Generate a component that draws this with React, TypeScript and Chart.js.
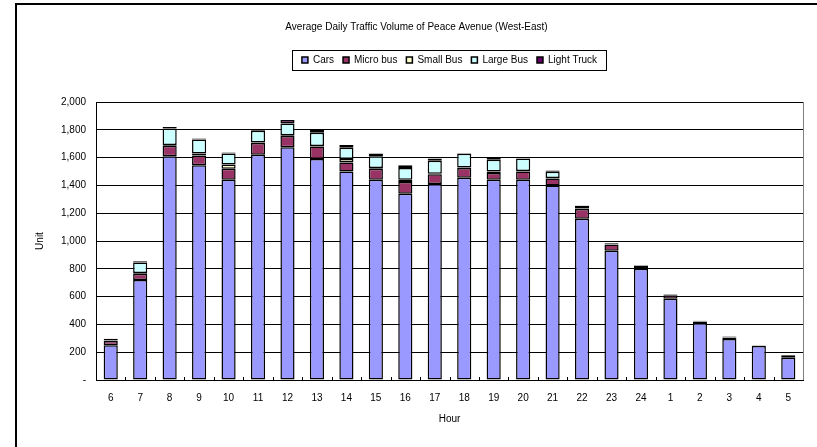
import React, { useEffect, useRef } from 'react';
import { Chart, registerables } from 'chart.js';

Chart.register(...registerables);

const FONT = "'Liberation Sans', Arial, Helvetica, sans-serif";

const chartTitle = 'Average Daily Traffic Volume of Peace Avenue (West-East)';
const xTitle = 'Hour';
const yTitle = 'Unit';

const hours = ['6', '7', '8', '9', '10', '11', '12', '13', '14', '15', '16', '17', '18', '19', '20', '21', '22', '23', '24', '1', '2', '3', '4', '5'];

const cars = [250, 720, 1610, 1545, 1440, 1620, 1675, 1590, 1500, 1440, 1340, 1410, 1455, 1440, 1440, 1400, 1160, 930, 800, 585, 410, 295, 245, 160];
const microBus = [30, 45, 75, 70, 80, 85, 80, 90, 65, 80, 85, 70, 70, 50, 60, 50, 70, 45, 20, 25, 8, 10, 2, 12];
const smallBus = [2, 5, 5, 15, 30, 3, 5, 3, 25, 5, 15, 3, 3, 10, 3, 3, 3, 1, 1, 1, 1, 1, 0, 1];
const largeBus = [3, 75, 120, 100, 80, 85, 85, 95, 80, 85, 85, 95, 100, 85, 90, 45, 20, 3, 2, 2, 1, 1, 1, 1];
const lightTruck = [12, 10, 10, 8, 6, 12, 25, 20, 20, 20, 20, 15, 3, 15, 3, 10, 3, 5, 3, 4, 6, 6, 2, 6];

const seriesNames = ['Cars', 'Micro bus', 'Small Bus', 'Large Bus', 'Light Truck'];
const seriesColors = ['#9999FF', '#993366', '#FFFFCC', '#CCFFFF', '#660066'];

const yTicks = { min: 0, max: 2000, step: 200 };

export default function App() {
  const ref = useRef<HTMLCanvasElement>(null);

  useEffect(() => {
    const canvas = ref.current;
    if (!canvas) return;

    const framePlugin = {
      id: 'framePlugin',
      afterInit(chart: any) {
        const lg = chart.legend;
        if (lg) {
          const orig = lg.fit.bind(lg);
          lg.fit = function () {
            orig();
            this.height = 56;
          };
        }
      },
      beforeDraw(chart: any) {
        const ctx = chart.ctx;
        ctx.save();
        ctx.fillStyle = '#ffffff';
        ctx.fillRect(0, 0, chart.width, chart.height);
        ctx.fillStyle = '#000000';
        ctx.fillRect(15, 3, chart.width - 15, 2);
        ctx.fillRect(15, 3, 2, chart.height - 3);
        ctx.restore();
      },
      afterDraw(chart: any) {
        const ctx = chart.ctx;
        const area = chart.chartArea;
        ctx.save();
        const lg = chart.legend;
        const hb = lg && lg.legendHitBoxes;
        if (hb && hb.length) {
          let minL = Infinity;
          let maxR = -Infinity;
          hb.forEach((b: any) => {
            minL = Math.min(minL, b.left);
            maxR = Math.max(maxR, b.left + b.width);
          });
          const cy = hb[0].top + hb[0].height / 2;
          ctx.strokeStyle = '#000';
          ctx.lineWidth = 1;
          ctx.strokeRect(Math.round(minL - 10) + 0.5, Math.round(cy - 10) + 0.5, Math.round(maxR - minL + 19), 20);
        }
        ctx.strokeStyle = '#808080';
        ctx.lineWidth = 1;
        ctx.beginPath();
        ctx.moveTo(Math.round(area.right) + 0.5, area.top);
        ctx.lineTo(Math.round(area.right) + 0.5, area.bottom);
        ctx.stroke();
        const xs = chart.scales.x;
        ctx.strokeStyle = '#000';
        ctx.beginPath();
        for (let i = 1; i < hours.length; i++) {
          const px = Math.round((xs.getPixelForValue(i - 1) + xs.getPixelForValue(i)) / 2) + 0.5;
          ctx.moveTo(px, area.bottom - 3);
          ctx.lineTo(px, area.bottom);
        }
        ctx.stroke();
        ctx.restore();
      },
    };

    const seriesData = [cars, microBus, smallBus, largeBus, lightTruck];

    const chart = new Chart(canvas, {
      type: 'bar',
      data: {
        labels: hours,
        datasets: seriesNames.map((name, i) => ({
          label: name,
          data: seriesData[i],
          backgroundColor: seriesColors[i],
          borderColor: '#000000',
          borderWidth: 1.5,
          borderSkipped: false,
          barPercentage: 0.48,
          categoryPercentage: 1,
        })),
      },
      options: {
        responsive: false,
        animation: false,
        events: [],
        devicePixelRatio: 1,
        layout: { padding: { left: 16, right: 0, top: 0, bottom: 0 } },
        font: { family: FONT, size: 10 },
        plugins: {
          title: {
            display: true,
            text: chartTitle,
            color: '#000',
            font: { family: FONT, size: 10, weight: 'normal' },
            padding: { top: 21, bottom: 13 },
          },
          legend: {
            display: true,
            position: 'top',
            fullSize: false,
            labels: {
              color: '#000',
              font: { family: FONT, size: 10 },
              boxWidth: 6,
              boxHeight: 6,
              padding: 9,
            },
          },
          tooltip: { enabled: false },
        },
        scales: {
          x: {
            stacked: true,
            grid: { display: false, drawTicks: false },
            border: { display: true, color: '#000', width: 1 },
            ticks: { color: '#000', font: { family: FONT, size: 10 }, padding: 12, maxRotation: 0, autoSkip: false },
            title: { display: true, text: xTitle, color: '#000', font: { family: FONT, size: 10 }, padding: { top: 0, bottom: 22 } },
            afterFit: (s: any) => {
              s.height = 67;
            },
          },
          y: {
            stacked: true,
            min: yTicks.min,
            max: yTicks.max,
            grid: { color: '#000', lineWidth: 1, drawTicks: false },
            border: { display: true, color: '#000', width: 1 },
            ticks: {
              stepSize: yTicks.step,
              color: '#000',
              font: { family: FONT, size: 10 },
              padding: 10,
              callback: (v: any) => (Number(v) === 0 ? '-' : Number(v).toLocaleString('en-US')),
            },
            title: { display: true, text: yTitle, color: '#000', font: { family: FONT, size: 10 }, padding: { top: 18, bottom: 0 } },
            afterFit: (s: any) => {
              s.width = 80;
            },
          },
          yRight: {
            type: 'linear',
            position: 'right',
            display: true,
            grid: { display: false, drawTicks: false },
            border: { display: false },
            ticks: { display: false },
            title: { display: false },
            afterFit: (s: any) => {
              s.width = 14;
            },
          },
        },
      } as any,
      plugins: [framePlugin],
    });

    return () => {
      chart.destroy();
    };
  }, []);

  return (
    <div style={{ position: 'absolute', left: 0, top: 0, width: 817, height: 447, background: '#fff' }}>
      <canvas ref={ref} width={817} height={447} style={{ display: 'block' }} />
    </div>
  );
}
